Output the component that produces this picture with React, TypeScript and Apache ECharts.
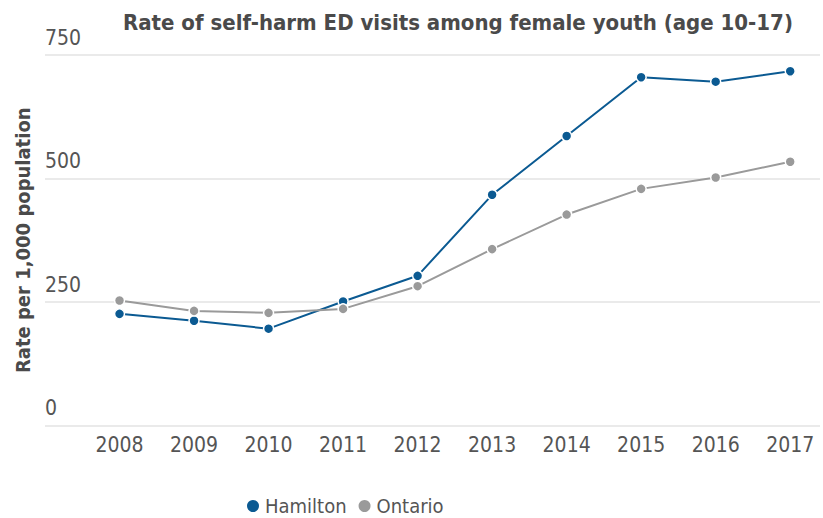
import React, { useEffect, useRef } from "react";
import * as echarts from "echarts";

const years = [2008, 2009, 2010, 2011, 2012, 2013, 2014, 2015, 2016, 2017];
const hamilton = [226, 212, 196, 251, 303, 467, 586, 705, 696, 717];
const ontario = [253, 232, 228, 236, 282, 357, 427, 479, 502, 534];
const yTicks = [0, 250, 500, 750];

const FONT = "'Liberation Sans Narrow', 'DejaVu Sans Condensed', 'Roboto Condensed', sans-serif";

export default function App() {
  const ref = useRef<HTMLDivElement>(null);
  useEffect(() => {
    if (!ref.current) return;
    const chart = echarts.init(ref.current, undefined, { renderer: "svg" });
    const mk = (name: string, vals: number[], color: string) => ({
      name,
      type: "line",
      data: years.map((y, i) => [y, vals[i]]),
      symbol: "circle",
      symbolSize: 10,
      lineStyle: { color, width: 2 },
      itemStyle: { color, borderColor: "#fff", borderWidth: 1.5 },
    });
    chart.setOption({
      animation: false,
      textStyle: { fontFamily: FONT },
      title: {
        text: "Rate of self-harm ED visits among female youth (age 10-17)",
        left: 118,
        top: 6,
        textStyle: { fontFamily: FONT, fontSize: 22, fontWeight: "bold", color: "#4a4a4a" },
      },
      legend: {
        bottom: -3,
        left: 240,
        icon: "circle",
        itemWidth: 14,
        itemHeight: 14,
        itemGap: 10,
        textStyle: { fontFamily: FONT, fontSize: 20, color: "#555" },
        data: ["Hamilton", "Ontario"],
      },
      grid: { left: 45, right: 0, top: 55, bottom: 92.5 },
      xAxis: {
        type: "value",
        min: 2007,
        max: 2017.4,
        interval: 1,
        axisLine: { show: false },
        axisTick: { show: false },
        splitLine: { show: false },
        axisLabel: {
          fontFamily: FONT,
          fontSize: 21,
          color: "#555",
          margin: 9,
          formatter: (v: number) => (years.includes(v) ? String(v) : ""),
        },
      },
      yAxis: {
        type: "value",
        min: yTicks[0],
        max: yTicks[yTicks.length - 1],
        interval: 250,
        name: "Rate per 1,000 population",
        nameLocation: "middle",
        nameGap: 12,
        nameTextStyle: { fontFamily: FONT, fontSize: 20, fontWeight: "bold", color: "#4a4a4a" },
        axisLine: { show: false },
        axisTick: { show: false },
        splitLine: { lineStyle: { color: "#e3e3e3", width: 1.5 } },
        axisLabel: {
          inside: true,
          margin: 0,
          align: "left",
          verticalAlign: "bottom",
          padding: [0, 0, 7, 0],
          fontFamily: FONT,
          fontSize: 21,
          color: "#555",
        },
      },
      series: [mk("Hamilton", hamilton, "#0b5a92"), mk("Ontario", ontario, "#9a9a9a")],
    });
    return () => chart.dispose();
  }, []);
  return <div ref={ref} style={{ width: 823, height: 518, position: "absolute", left: 0, top: 0 }} />;
}
